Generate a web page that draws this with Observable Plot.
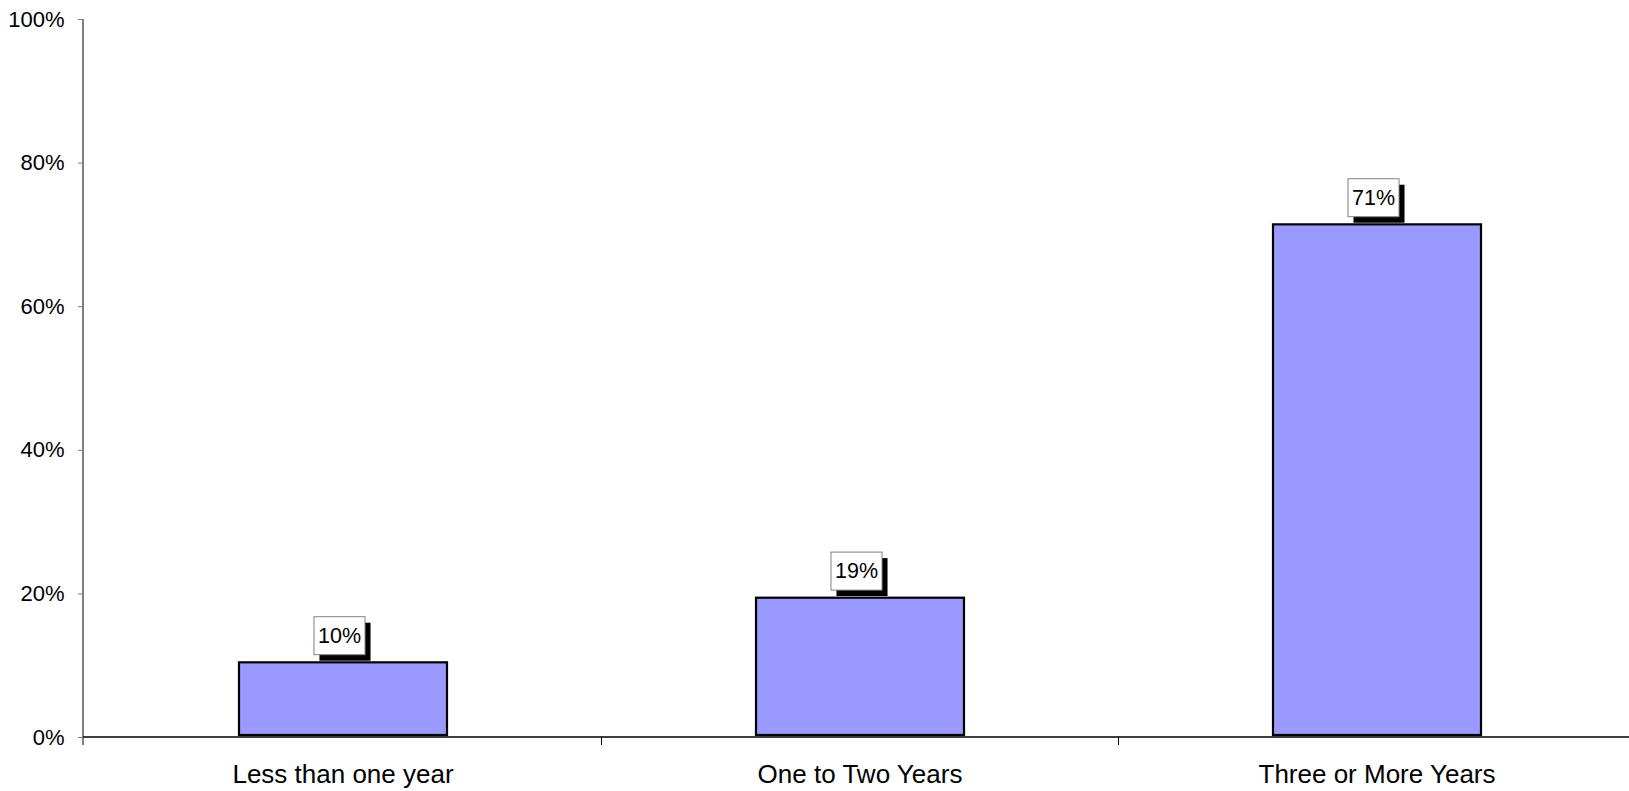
<!DOCTYPE html>
<html><head><meta charset="utf-8">
<script src="https://cdn.jsdelivr.net/npm/d3@7"></script>
<script src="https://cdn.jsdelivr.net/npm/@observablehq/plot@0.6"></script>
<style>
html,body{margin:0;padding:0;background:#fff;}
body{font-family:"Liberation Sans",Arial,sans-serif;}
</style>
</head><body><div id="chart"></div>
<script>
const categories = ["Less than one year", "One to Two Years", "Three or More Years"];
const values = [10.4, 19.4, 71.4];
const valueLabels = ["10%", "19%", "71%"];
const yTicks = [0, 20, 40, 60, 80, 100];
const yTickLabels = ["0%", "20%", "40%", "60%", "80%", "100%"];

const data = categories.map((c, i) => ({category: c, value: values[i], label: valueLabels[i]}));

// axis lines and band-boundary ticks, drawn from the scales
const axisLines = (index, scales, vals, dims) => {
  const g = d3.create("svg:g");
  const y0 = scales.y(0), y100 = scales.y(100);
  g.append("line")
    .attr("x1", dims.marginLeft).attr("x2", dims.marginLeft)
    .attr("y1", y100).attr("y2", y0 + 8)
    .attr("stroke", "#808080").attr("stroke-width", 2);
  g.append("line")
    .attr("x1", dims.marginLeft).attr("x2", dims.width)
    .attr("y1", y0).attr("y2", y0)
    .attr("stroke", "#000").attr("stroke-width", 1.5);
  categories.slice(1).forEach(c => {
    const x = Math.round(scales.x(c)) + 0.5;
    g.append("line").attr("x1", x).attr("x2", x)
      .attr("y1", y0).attr("y2", y0 + 8)
      .attr("stroke", "#000").attr("stroke-width", 1);
  });
  return g.node();
};

const chart = Plot.plot({
  width: 1629,
  height: 791,
  marginLeft: 83,
  marginRight: -6,
  marginTop: 19,
  marginBottom: 54,
  style: {fontFamily: '"Liberation Sans", Arial, sans-serif', background: "#fff"},
  x: {domain: categories, padding: 0},
  y: {domain: [0, 100]},
  marks: [
    Plot.axisY({ticks: yTicks, tickFormat: d => yTickLabels[yTicks.indexOf(d)], tickSize: 5, tickPadding: 14,
      fontSize: 22, stroke: "#808080", fill: "#000", label: null}),
    Plot.axisX({tickSize: 0, tickPadding: 27, fontSize: 26, fill: "#000", label: null}),
    axisLines,
    Plot.barY(data, {x: "category", y: "value", fill: "#9999FF", stroke: "#000", strokeWidth: 2.2,
      insetLeft: 155, insetRight: 154, insetBottom: 2}),
    Plot.text(data, {x: "category", y: "value", text: "label", fontSize: 21.5, fill: "#000",
      lineAnchor: "middle", dy: -27, dx: -3.5, className: "value-labels"})
  ]
});

document.getElementById("chart").appendChild(chart);

// boxes with drop shadow behind value labels
d3.select(chart).selectAll(".value-labels text").each(function() {
  const b = this.getBBox();
  const tr = this.getAttribute("transform");
  const cy = b.y + b.height / 2;
  const w = b.width + 8, h = 38;
  const x = b.x - 4, y = cy - h / 2;
  const p = this.parentNode;
  const sh = document.createElementNS("http://www.w3.org/2000/svg", "rect");
  sh.setAttribute("x", x + 5.5); sh.setAttribute("y", y + 6);
  sh.setAttribute("width", w); sh.setAttribute("height", h);
  sh.setAttribute("fill", "#000");
  if (tr) sh.setAttribute("transform", tr);
  const bx = document.createElementNS("http://www.w3.org/2000/svg", "rect");
  bx.setAttribute("x", x); bx.setAttribute("y", y);
  bx.setAttribute("width", w); bx.setAttribute("height", h);
  bx.setAttribute("fill", "#fff"); bx.setAttribute("stroke", "#808080"); bx.setAttribute("stroke-width", 1);
  if (tr) bx.setAttribute("transform", tr);
  p.insertBefore(sh, this);
  p.insertBefore(bx, this);
});
</script>
</body></html>
